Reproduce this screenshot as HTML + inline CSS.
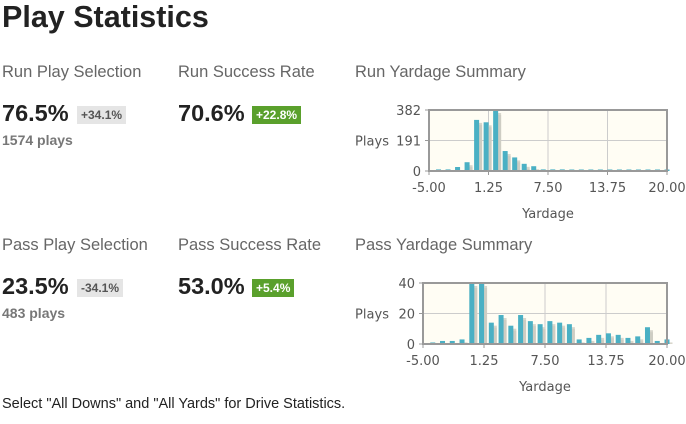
<!DOCTYPE html><html><head><style>
body{margin:0;width:686px;height:424px;background:#fff;font-family:"Liberation Sans",Arial,sans-serif;position:relative;overflow:hidden}
.a{position:absolute;white-space:nowrap}
.t{font-size:30.5px;font-weight:bold;color:#222}
.l{font-size:16.5px;color:#666}
.n{font-size:23.5px;font-weight:bold;color:#222}
.b{font-size:12px;font-weight:bold;padding:2px 4px;line-height:14px}
.g{background:#e5e5e5;color:#555}
.gr{background:#5aa02c;color:#fff}
.p{font-size:14px;font-weight:bold;color:#777}
svg{position:absolute;left:0;top:0}
svg text{font-family:"DejaVu Sans",sans-serif;font-size:13px;fill:#555}
</style></head><body>
<div class="a t" style="left:2px;top:0px">Play Statistics</div>
<div class="a l" style="left:2px;top:63px">Run Play Selection</div>
<div class="a l" style="left:178px;top:63px">Run Success Rate</div>
<div class="a l" style="left:355px;top:63px">Run Yardage Summary</div>
<div class="a n" style="left:2px;top:100px">76.5%</div>
<div class="a b g" style="left:77px;top:106px">+34.1%</div>
<div class="a n" style="left:178px;top:100px">70.6%</div>
<div class="a b gr" style="left:252px;top:106px">+22.8%</div>
<div class="a p" style="left:2px;top:132px">1574 plays</div>
<div class="a l" style="left:2px;top:236px">Pass Play Selection</div>
<div class="a l" style="left:178px;top:236px">Pass Success Rate</div>
<div class="a l" style="left:355px;top:236px">Pass Yardage Summary</div>
<div class="a n" style="left:2px;top:273px">23.5%</div>
<div class="a b g" style="left:77px;top:279px">-34.1%</div>
<div class="a n" style="left:178px;top:273px">53.0%</div>
<div class="a b gr" style="left:252px;top:279px">+5.4%</div>
<div class="a p" style="left:2px;top:305px">483 plays</div>
<div class="a" style="left:2px;top:396px;font-size:14.5px;color:#222">Select "All Downs" and "All Yards" for Drive Statistics.</div>
<svg width="686" height="424" id="s"></svg>
<script>
function chart(x0,x1,y0,y1,max,ticks,vals){
 let s='',w=x1-x0,h=y1-y0,sx=v=>x0+(v+5)/25*w;
 s+=`<rect x="${x0}" y="${y0}" width="${w}" height="${h}" fill="#fffdf4"/>`;
 [1.25,7.5,13.75].forEach(t=>s+=`<line x1="${sx(t)}" x2="${sx(t)}" y1="${y0}" y2="${y1}" stroke="#ccc"/>`);
 s+=`<line x1="${x0}" x2="${x1}" y1="${(y0+y1)/2}" y2="${(y0+y1)/2}" stroke="#ccc"/>`;
 vals.forEach((v,i)=>{let c=sx(i-4),bh=v/max*h;if(bh<1.5)bh=1.5;
  s+=`<rect x="${c+0.5}" y="${y1-bh+3}" width="5" height="${bh-3}" fill="#d8d6cc"/>`;
  s+=`<rect x="${c+1.5}" y="${y1-bh+5}" width="4" height="${bh-5}" fill="#c8c6bc" opacity=".6"/>`;
  s+=`<rect x="${c-2.5}" y="${y1-bh}" width="5" height="${bh}" fill="#4ab0c4"/>`;});
 s+=`<rect x="${x0}" y="${y0}" width="${w}" height="${h}" fill="none" stroke="#999" stroke-width="2"/>`;
 ticks.forEach((t,i)=>{let y=y1-i*h/2;s+=`<line x1="${x0-4}" x2="${x0}" y1="${y}" y2="${y}" stroke="#999"/><text x="${x0-8}" y="${y+5}" text-anchor="end">${t}</text>`;});
 ['-5.00','1.25','7.50','13.75','20.00'].forEach((t,i)=>{let x=x0+i*w/4;s+=`<line x1="${x}" x2="${x}" y1="${y1}" y2="${y1+4}" stroke="#999"/><text x="${x}" y="${y1+21}" text-anchor="middle">${t}</text>`;});
 s+=`<text x="355" y="${(y0+y1)/2+5}" textLength="34">Plays</text><text x="${(x0+x1)/2}" y="${y1+47}" text-anchor="middle">Yardage</text>`;
 return s;}
document.getElementById('s').innerHTML=
 chart(429,667,110,171,382,['0','191','382'],[10,10,25,55,320,305,382,125,85,45,30,10,10,10,2,2,2,2,2,2,2,2,2,2,2])+
 chart(423,667,283,344,40,['0','20','40'],[1,2,2,3,40,40,14,19,12,19,15,13,15,14,13,3,4,6,7,6,4,5,11,2,3]);
</script>
</body></html>
